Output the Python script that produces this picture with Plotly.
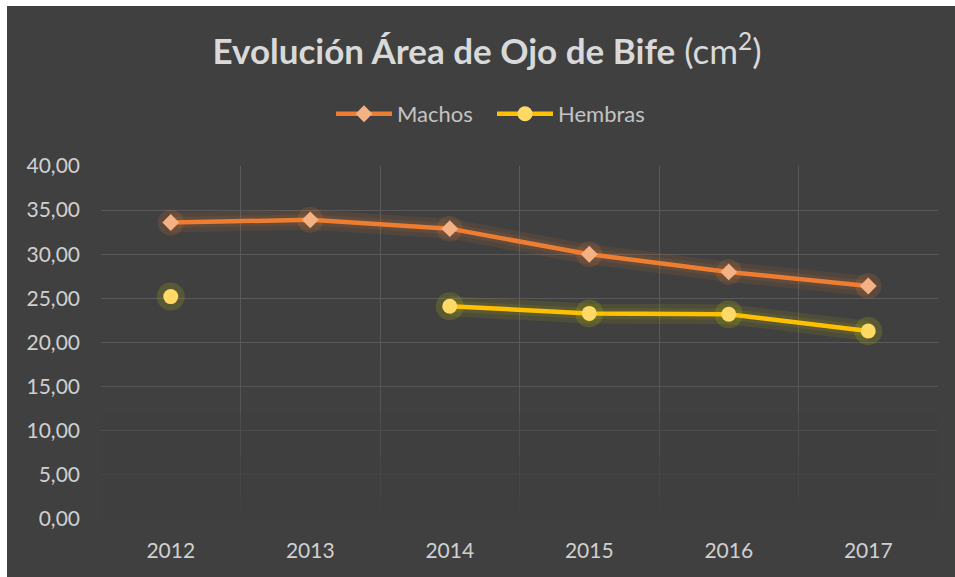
import plotly.graph_objects as go

years = ["2012", "2013", "2014", "2015", "2016", "2017"]
machos = [33.6, 33.9, 32.9, 30.0, 28.0, 26.4]
hembras = [25.2, None, 24.1, 23.3, 23.2, 21.3]
y_ticks = [0, 5, 10, 15, 20, 25, 30, 35, 40]
y_labels = ["0,00", "5,00", "10,00", "15,00", "20,00", "25,00", "30,00", "35,00", "40,00"]

W, H = 955, 577
ml, mr, mt, mb = 101, 17, 166, 58
pw, ph = W - ml - mr, H - mt - mb

xs = list(range(len(years)))
font = "Lato, 'Open Sans', sans-serif"
BG = "#404040"

fig = go.Figure()
# glow layers
fig.add_trace(go.Scatter(x=xs, y=machos, mode="lines+markers", line=dict(color="rgba(237,125,49,0.10)", width=20),
                         marker=dict(size=26, color="rgba(237,125,49,0.16)"), showlegend=False, hoverinfo="skip"))
fig.add_trace(go.Scatter(x=xs, y=machos, mode="lines", line=dict(color="rgba(237,125,49,0.10)", width=11),
                         showlegend=False, hoverinfo="skip"))
fig.add_trace(go.Scatter(x=xs, y=hembras, mode="lines+markers", line=dict(color="rgba(210,200,0,0.10)", width=20),
                         marker=dict(size=28, color="rgba(200,200,0,0.18)"), showlegend=False, hoverinfo="skip"))
fig.add_trace(go.Scatter(x=xs, y=hembras, mode="lines", line=dict(color="rgba(210,200,0,0.10)", width=11),
                         showlegend=False, hoverinfo="skip"))
fig.add_trace(go.Scatter(x=xs, y=machos, mode="lines+markers", name="Machos",
                         line=dict(color="#ED7D31", width=4.5),
                         marker=dict(symbol="diamond", size=13, color="#F4B183")))
fig.add_trace(go.Scatter(x=xs, y=hembras, mode="lines+markers", name="Hembras",
                         line=dict(color="#FFC000", width=4.5),
                         marker=dict(symbol="circle", size=15, color="#FFD966")))

# dark chart background with a thin white edge at left and top
shapes = [dict(type="rect", xref="paper", yref="paper", layer="below",
               x0=(7 - ml) / pw, x1=(W + 5 - ml) / pw, y0=-(mb + 5) / ph, y1=(H - 6 - mb) / ph,
               fillcolor=BG, line=dict(width=0))]
# fade gridlines toward the bottom (no data marks lie in this band)
fades = [(18, 0.2), (12, 0.35), (7, 0.5), (2.5, 0.8)]
shapes += [dict(type="rect", xref="paper", yref="y", layer="above", x0=0, x1=1, y0=-0.3, y1=top,
                fillcolor=BG, opacity=op, line=dict(width=0)) for top, op in fades]

fig.update_layout(
    width=W, height=H,
    margin=dict(l=ml, r=mr, t=mt, b=mb),
    paper_bgcolor="#FFFFFF",
    plot_bgcolor="rgba(0,0,0,0)",
    font=dict(family=font, color="#D0D0D0", size=21),
    title=dict(
        text="<b>Evolución Área de Ojo de Bife</b> (cm<sup>2</sup>)",
        x=487 / W, xanchor="center", y=1 - 52 / H, yanchor="middle",
        font=dict(size=35, color="#D9D9D9", family=font),
    ),
    legend=dict(orientation="h", x=(337 - 101 - 6) / pw, xanchor="left", y=1 + (mt - 114) / ph, yanchor="middle",
                font=dict(size=22, color="#C4C4C4"), bgcolor="rgba(0,0,0,0)",
                itemwidth=56, entrywidth=90, entrywidthmode="pixels"),
    xaxis=dict(
        range=[-0.5, 5.5], tickmode="array", tickvals=xs, ticktext=years,
        showgrid=False, zeroline=False, showline=False, ticks="",
        tickfont=dict(size=21, color="#D0D0D0"), ticklabelstandoff=17,
        minor=dict(tickmode="array", tickvals=[i - 0.5 for i in range(len(years) + 1)],
                   showgrid=True, gridcolor="#5A5A5A", gridwidth=1.3),
    ),
    yaxis=dict(
        range=[0, 40], tickmode="array", tickvals=y_ticks, ticktext=y_labels,
        showgrid=True, gridcolor="#5A5A5A", gridwidth=1.3, zeroline=False, showline=False,
        tickfont=dict(size=21, color="#D0D0D0"), ticklabelstandoff=20,
    ),
    shapes=shapes,
)

fig.write_html("out.html", config={"displayModeBar": False},
               post_script="document.body.style.margin='0';document.body.style.overflow='hidden';")
